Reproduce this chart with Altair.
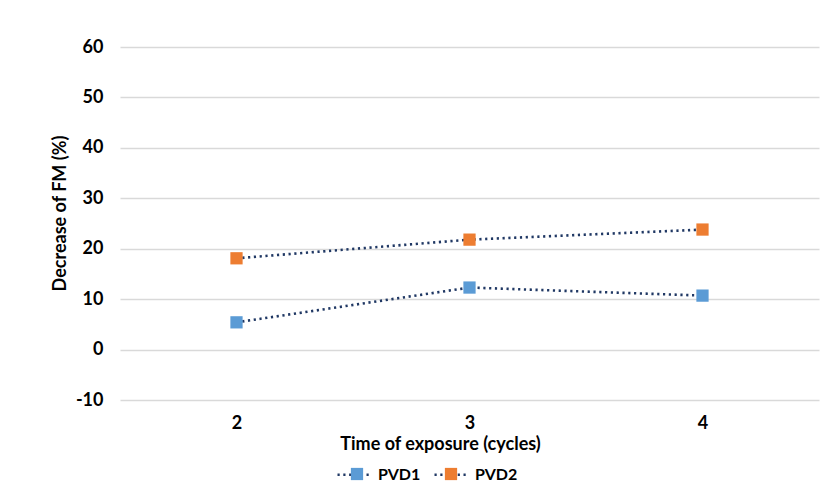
import altair as alt
import pandas as pd

cycles = ["2", "3", "4"]
pvd1 = [5.4, 12.3, 10.7]
pvd2 = [18.1, 21.8, 23.8]
series_names = ["PVD1", "PVD2"]
series_colors = ["#5B9BD5", "#ED7D31"]

rows = []
for name, vals in zip(series_names, [pvd1, pvd2]):
    for c, v in zip(cycles, vals):
        rows.append({"cycle": c, "value": v, "series": name, "line": name})
df = pd.DataFrame(rows)

FONT = "Lato"
FS = 18
LFS = 16
NAVY = "#203864"
DASH = [2.2, 3.6]

x = alt.X("cycle:N", sort=cycles, scale=alt.Scale(paddingInner=0, paddingOuter=0),
          axis=alt.Axis(title="Time of exposure (cycles)", labelAngle=0, ticks=False, domain=False,
                        labelPadding=14, titlePadding=3, titleX=320, grid=False))
y = alt.Y("value:Q", scale=alt.Scale(domain=[-10, 60], nice=False, zero=False),
          axis=alt.Axis(title="Decrease of FM (%)", values=list(range(-10, 61, 10)), ticks=False,
                        domain=False, labelPadding=17, titlePadding=6, titleY=166, grid=True,
                        labelExpr="replace(datum.label, '\u2212', '-')"))

base = alt.Chart(df)

lines = base.mark_line(color=NAVY, strokeWidth=2.6).encode(
    x=x, y=y,
    strokeDash=alt.StrokeDash("line:N",
                              scale=alt.Scale(range=[DASH, DASH]),
                              legend=alt.Legend(title=None, orient="none", direction="horizontal",
                                                legendX=216, legendY=409, symbolType="stroke",
                                                symbolSize=1156, symbolStrokeColor=NAVY,
                                                symbolStrokeWidth=2.6, labelFontSize=LFS,
                                                labelFontWeight="bold", labelFont=FONT,
                                                labelColor="#000", labelOffset=5, columnPadding=8)))

points = base.mark_square(size=150, opacity=1, filled=True).encode(
    x=x, y=y,
    color=alt.Color("series:N", scale=alt.Scale(domain=series_names, range=series_colors),
                    legend=alt.Legend(title=None, orient="none", direction="horizontal",
                                      legendX=229, legendY=419, symbolType="square",
                                      symbolSize=150, symbolOpacity=1, labelFontSize=LFS,
                                      labelFontWeight="bold", labelFont=FONT, labelColor="transparent",
                                      labelOffset=15.8, columnPadding=19)))

chart = alt.layer(lines, points).properties(
    width=699, height=353,
    autosize=alt.AutoSizeParams(type="none"),
    padding={"left": 112, "top": 39, "right": 1, "bottom": 95},
    background="white",
).configure_view(stroke=None).configure_axis(
    labelFont=FONT, titleFont=FONT, labelFontSize=FS, titleFontSize=FS,
    labelFontWeight="bold", titleFontWeight="bold", labelColor="#000", titleColor="#000",
    gridColor="#D9D9D9", gridWidth=1.3,
)

chart.save("out.html", embed_options={"renderer": "svg", "actions": False})
